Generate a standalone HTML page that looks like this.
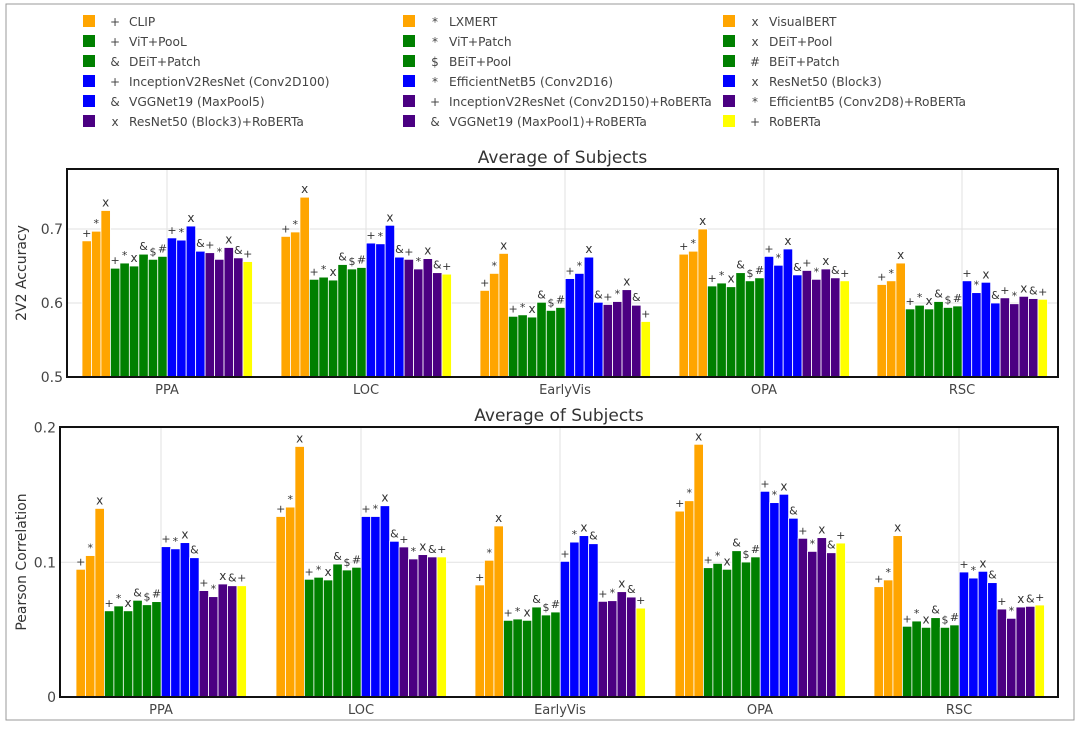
<!DOCTYPE html>
<html><head><meta charset="utf-8"><style>
body{margin:0;background:#fff;width:1080px;height:751px;overflow:hidden}
svg text{font-family:"DejaVu Sans","Liberation Sans",sans-serif}
</style></head><body>
<svg id="c" width="1080" height="751" xmlns="http://www.w3.org/2000/svg">
<rect x="6" y="4" width="1068" height="716" fill="none" stroke="#999" stroke-width="1"/>
</svg>
<script>
const categories=["PPA","LOC","EarlyVis","OPA","RSC"];
const models=["CLIP","LXMERT","VisualBERT","ViT+PooL","ViT+Patch","DEiT+Pool","DEiT+Patch","BEiT+Pool","BEiT+Patch","InceptionV2ResNet (Conv2D100)","EfficientNetB5 (Conv2D16)","ResNet50 (Block3)","VGGNet19 (MaxPool5)","InceptionV2ResNet (Conv2D150)+RoBERTa","EfficientB5 (Conv2D8)+RoBERTa","ResNet50 (Block3)+RoBERTa","VGGNet19 (MaxPool1)+RoBERTa","RoBERTa"];
const symbols=["+","*","x","+","*","x","&","$","#","+","*","x","&","+","*","x","&","+"];
const colors=["#ffa500","#ffa500","#ffa500","#008000","#008000","#008000","#008000","#008000","#008000","#0000ff","#0000ff","#0000ff","#0000ff","#4b0082","#4b0082","#4b0082","#4b0082","#ffff00"];
const accPPA=[0.684,0.697,0.725,0.647,0.654,0.650,0.666,0.659,0.663,0.688,0.685,0.704,0.670,0.668,0.659,0.675,0.661,0.656];
const accLOC=[0.690,0.696,0.743,0.632,0.635,0.631,0.652,0.646,0.648,0.681,0.680,0.705,0.662,0.659,0.646,0.660,0.641,0.639];
const accEarlyVis=[0.617,0.640,0.667,0.582,0.584,0.581,0.601,0.590,0.594,0.633,0.640,0.662,0.601,0.598,0.602,0.618,0.597,0.575];
const accOPA=[0.666,0.670,0.700,0.623,0.627,0.622,0.641,0.630,0.634,0.663,0.651,0.673,0.638,0.644,0.632,0.646,0.634,0.630];
const accRSC=[0.625,0.630,0.654,0.592,0.597,0.592,0.602,0.594,0.596,0.630,0.614,0.628,0.600,0.607,0.599,0.609,0.606,0.605];
const corPPA=[0.0948,0.105,0.140,0.064,0.0676,0.064,0.0718,0.0685,0.0708,0.1116,0.110,0.1146,0.1034,0.079,0.0745,0.0839,0.0826,0.0826];
const corLOC=[0.134,0.141,0.186,0.0874,0.0889,0.0869,0.0987,0.0943,0.0963,0.134,0.134,0.142,0.1156,0.1114,0.1025,0.1057,0.104,0.104];
const corEarlyVis=[0.0832,0.1015,0.127,0.0569,0.0579,0.0569,0.0668,0.0609,0.0631,0.1007,0.115,0.1198,0.1138,0.071,0.0715,0.0782,0.0742,0.066];
const corOPA=[0.138,0.1457,0.1876,0.096,0.0992,0.0948,0.1086,0.1002,0.104,0.1527,0.1443,0.1505,0.1327,0.1178,0.1081,0.1183,0.1071,0.1143];
const corRSC=[0.0819,0.0869,0.1198,0.0525,0.0564,0.0517,0.0589,0.0517,0.0535,0.0928,0.0883,0.0933,0.0849,0.0653,0.0584,0.0668,0.0673,0.0683];
const accTicks=[0.5,0.6,0.7];
const corTicks=[0,0.1,0.2];

const svg=document.getElementById('c');
const NS="http://www.w3.org/2000/svg";
function mk(tag,attrs,parent){const e=document.createElementNS(NS,tag);for(const k in attrs)e.setAttribute(k,attrs[k]);(parent||svg).appendChild(e);return e;}

const legend=mk('g',{});


models.forEach((m,i)=>{
  const col=i%3,row=Math.floor(i/3);
  const x=83+col*320,y=21+row*20;
  const g=mk('g',{},legend);
  
  
  mk('rect',{x:x,y:y-6,width:12,height:12,fill:colors[i]},g);
  const s=mk('text',{x:x+32,y:y+5,'font-size':12,fill:'#444','text-anchor':'middle'},g);
  s.textContent=symbols[i];
  const t=mk('text',{x:x+46,y:y+5,'font-size':12.2,fill:'#444',textLength:0},g);
  t.removeAttribute('textLength');
  t.textContent=m;
});

function panel(o){
  const {left,right,top,bottom,ymin,ymax,ticks,series,title,ytitle,centers,name,fmt}=o;
  const g=mk('g',{});
  
  
  const ys=v=>bottom-(v-ymin)/(ymax-ymin)*(bottom-top);
  ticks.forEach(t=>{
    if(t!==ymin){const l=mk('line',{x1:left,x2:right,y1:ys(t),y2:ys(t),stroke:'#e2e2e2','stroke-width':1},g);
    }
    const tx=mk('text',{x:left-4,y:ys(t)+5,'font-size':14,fill:'#444','text-anchor':'end'},g);
    
    tx.textContent=fmt(t);
  });
  centers.forEach((cx,ci)=>{
    const l=mk('line',{x1:cx,x2:cx,y1:top,y2:bottom,stroke:'#e2e2e2','stroke-width':1},g);
    
    const tx=mk('text',{x:cx,y:bottom+17,'font-size':13,fill:'#444','text-anchor':'middle'},g);
    
    tx.textContent=categories[ci];
    const step=9.47, x0=cx-85;
    series[ci].forEach((v,bi)=>{
      const x=x0+bi*step,y=ys(v);
      const r=mk('rect',{x:x,y:y,width:step,height:bottom-y,fill:colors[bi],stroke:'#fff','stroke-width':0.8},g);
      
      
      const s=mk('text',{x:x+step/2,y:y-4,'font-size':symbols[bi]==='x'?12:11,fill:'#333','text-anchor':'middle'},g);
      
      s.textContent=symbols[bi];
    });
  });
  const fr=mk('rect',{x:left,y:top,width:right-left,height:bottom-top,fill:'none',stroke:'#111','stroke-width':2},g);
  
  const tt=mk('text',{x:(left+right)/2,y:top-6,'font-size':17,fill:'#333','text-anchor':'middle'},g);
  
  tt.textContent=title;
  const yt=mk('text',{x:0,y:0,'font-size':14,fill:'#333','text-anchor':'middle',transform:`translate(26,${(top+bottom)/2}) rotate(-90)`},g);
  
  yt.textContent=ytitle;
}
panel({name:'accuracy-chart',left:67,right:1058,top:169,bottom:377,ymin:0.5,ymax:0.5+208/740,ticks:accTicks,
  series:[accPPA,accLOC,accEarlyVis,accOPA,accRSC],title:'Average of Subjects',ytitle:'2V2 Accuracy',
  centers:[167,366,565,764,962],fmt:t=>t.toFixed(1)});
panel({name:'correlation-chart',left:60,right:1058,top:427,bottom:697,ymin:0,ymax:270/1347,ticks:corTicks,
  series:[corPPA,corLOC,corEarlyVis,corOPA,corRSC],title:'Average of Subjects',ytitle:'Pearson Correlation',
  centers:[161,361,560,760,959],fmt:t=>t===0?'0':t.toFixed(1)});
</script>
</body></html>
